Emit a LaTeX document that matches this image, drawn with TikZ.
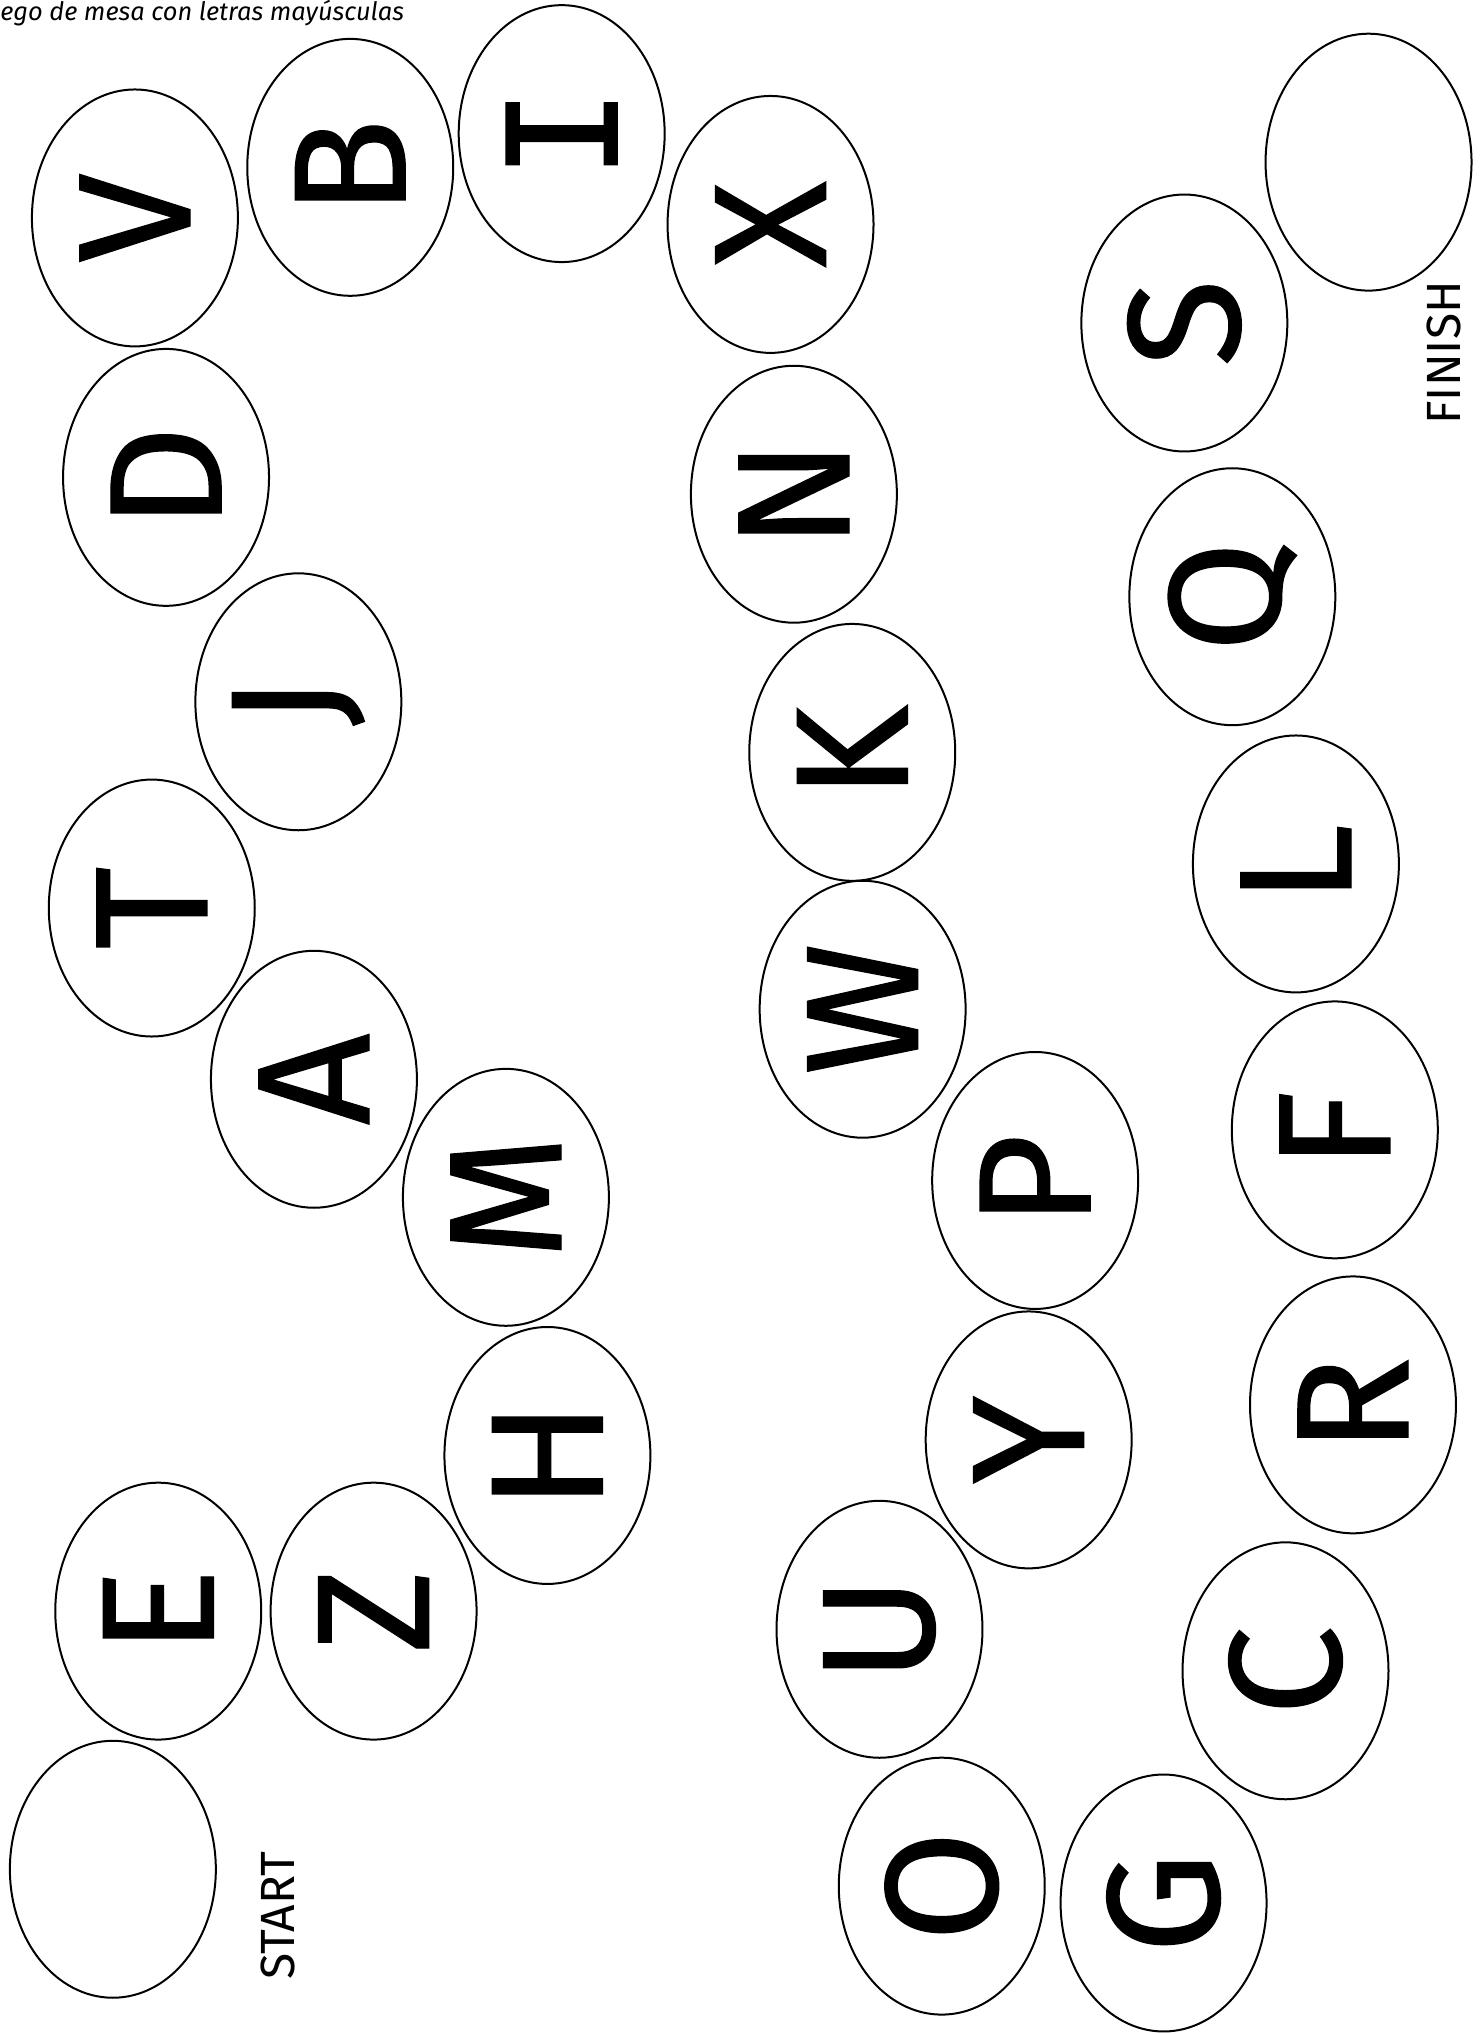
\documentclass[tikz,border=0pt]{standalone}
\usepackage{fontspec}
\setmainfont{Fira Sans}
\newfontfamily\letterfont[FakeBold=0.8]{Fira Sans}
\newfontfamily\monoI[FakeBold=1.2]{DejaVu Sans Mono}
\usetikzlibrary{shapes.geometric}
\begin{document}
\begin{tikzpicture}[x=0.64875pt,y=-0.64875pt,
  cell/.style={draw,line width=1pt,ellipse,rotate=90,minimum width=128.5pt,minimum height=103pt,inner sep=0pt,
    font=\letterfont\fontsize{80}{80}\selectfont},
  lab/.style={rotate=90,inner sep=0pt,font=\fontsize{24}{24}\selectfont}]
\useasboundingbox (0,0) rectangle (1143,1568);
\foreach \n/\x/\y/\t in {
  start/87/1441/{},
  cE/122/1242/E, cZ/288/1242/Z, cH/422/1122/H, cM/390/923/M, cA/242/832/A,
  cT/117/700/T, cJ/230/541/J, cD/128/368/D, cV/104/168/V, cB/270/129/B,
  cI/433/103/{\monoI\fontsize{76}{76}\selectfont I}, cX/594/173/X, cN/612/381/N, cK/657/580/K, cW/665/778/W,
  cP/798/910/P, cY/793/1110/Y, cU/678/1256/U, cO/726/1454/O, cG/897/1467/G,
  cC/991/1288/C, cR/1043/1083/R, cF/1029/871/F, cL/999/666/L, cQ/950/460/Q,
  cS/913/249/S, finish/1055/125/{}}
  \node[cell] (\n) at (\x,\y) {\t};
\node[lab] (tstart) at (214,1477) {START};
\node[lab] (tfinish) at (1113,272) {FINISH};
\node[anchor=north west,inner sep=0pt,font=\itshape\fontsize{12.7}{12.7}\selectfont] (title) at (0,0) {ego de mesa con letras mayúsculas};
\end{tikzpicture}
\end{document}
